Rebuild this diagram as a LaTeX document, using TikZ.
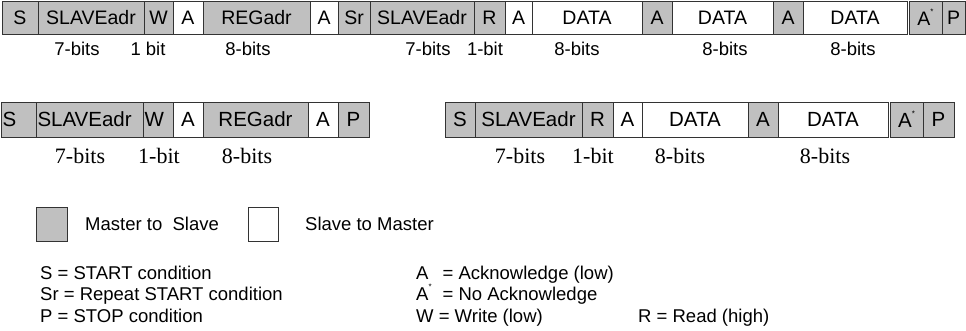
\documentclass[tikz,border=0pt]{standalone}
\usepackage{fontspec}
\setmainfont{Liberation Sans}
\newfontfamily\bitsserif{Liberation Serif}
\usetikzlibrary{positioning}
\definecolor{msgray}{RGB}{192,192,192}
\newcommand{\nack}{A\raisebox{0.55em}{\fontsize{8}{8}\selectfont *}}
\tikzset{
    fld/.style={draw=black!80, line width=0.9pt, minimum height=33pt, inner sep=0pt, outer sep=0pt,
        font=\fontsize{19.5}{22}\selectfont},
    ms/.style={fld, fill=msgray, minimum width=#1},
    sm/.style={fld, fill=white, minimum width=#1},
    tall/.style={minimum height=35pt, font=\fontsize{20.5}{23}\selectfont},
    bits/.style={font=\fontsize{18.5}{20}\selectfont},
    tbits/.style={font=\bitsserif\fontsize{22}{24}\selectfont},
    legend/.style={anchor=base west, inner sep=0pt, font=\fontsize{18.5}{20}\selectfont}
}

\begin{document}
\begin{tikzpicture}[x=1pt, y=-1pt]
\useasboundingbox (0,0) rectangle (966,331);

    % write register address, repeated start, read three bytes
    \node[ms=36, anchor=west] (rS) at (2,17.5) {S};
    \node[ms=106, right=0pt of rS] (rSlave) {SLAVEadr};
    \node[ms=29, right=0pt of rSlave] (rW) {W};
    \node[sm=30, right=0pt of rW] (rA1) {A};
    \node[ms=107, right=0pt of rA1] (rReg) {REGadr};
    \node[sm=28, right=0pt of rReg] (rA2) {A};
    \node[ms=32, right=0pt of rA2] (rSr) {Sr};
    \node[ms=104, right=0pt of rSr] (rSlaveB) {SLAVEadr};
    \node[ms=31, right=0pt of rSlaveB] (rR) {R};
    \node[sm=27, right=0pt of rR] (rA3) {A};
    \node[sm=110, right=0pt of rA3] (rData1) {DATA};
    \node[ms=30, right=0pt of rData1] (rA4) {A};
    \node[sm=101, right=0pt of rA4] (rData2) {DATA};
    \node[ms=30, right=0pt of rData2] (rA5) {A};
    \node[sm=104, right=0pt of rA5] (rData3) {DATA};
    \node[ms=33, right=2pt of rData3] (rNack) {\nack};
    \node[ms=23, right=0pt of rNack] (rP) {P};

    \node[bits] (rb1) at (77,49) {7-bits};
    \node[bits] (rb2) at (148,49) {1 bit};
    \node[bits] (rb3) at (248,49) {8-bits};
    \node[bits] (rb4) at (428,49) {7-bits};
    \node[bits] (rb5) at (485,49) {1-bit};
    \node[bits] (rb6) at (577,49) {8-bits};
    \node[bits] (rb7) at (725,49) {8-bits};
    \node[bits] (rb8) at (853,49) {8-bits};

    % write register address only
    \node[ms=35, tall, anchor=west, align=left, text width=32pt] (wS) at (1,119.5) {S};
    \node[ms=107, tall, align=left, text width=104pt, right=0pt of wS] (wSlave) {SLAVEadr};
    \node[ms=30, tall, align=left, text width=27pt, right=0pt of wSlave] (wW) {W};
    \node[sm=30, tall, right=0pt of wW] (wA1) {A};
    \node[ms=105, tall, right=0pt of wA1] (wReg) {REGadr};
    \node[sm=30, tall, right=0pt of wReg] (wA2) {A};
    \node[ms=31, tall, right=0pt of wA2] (wP) {P};

    \node[tbits] (wb1) at (80,156) {7-bits};
    \node[tbits] (wb2) at (159,156) {1-bit};
    \node[tbits] (wb3) at (247,156) {8-bits};

    % read two bytes
    \node[ms=30, tall, anchor=west] (dS) at (445,119.5) {S};
    \node[ms=107, tall, right=0pt of dS] (dSlave) {SLAVEadr};
    \node[ms=31, tall, right=0pt of dSlave] (dR) {R};
    \node[sm=29, tall, right=0pt of dR] (dA1) {A};
    \node[sm=106, tall, right=0pt of dA1] (dData1) {DATA};
    \node[ms=30, tall, right=0pt of dData1] (dA2) {A};
    \node[sm=110, tall, right=0pt of dA2] (dData2) {DATA};
    \node[ms=33, tall, right=2pt of dData2] (dNack) {\nack};
    \node[ms=31, tall, right=0pt of dNack] (dP) {P};

    \node[tbits] (db1) at (520,156) {7-bits};
    \node[tbits] (db2) at (593,156) {1-bit};
    \node[tbits] (db3) at (680,156) {8-bits};
    \node[tbits] (db4) at (825,156) {8-bits};

    % legend
    \node[ms=31, minimum height=34pt, anchor=west] (keyMS) at (36,224) {};
    \node[legend, anchor=west] (keyMSt) at (85,224) {Master to~~Slave};
    \node[sm=30, minimum height=34pt, anchor=west] (keySM) at (248,224) {};
    \node[legend, anchor=west] (keySMt) at (305,224) {Slave to Master};

    \node[legend] (defS) at (40,279) {S = START condition};
    \node[legend] (defSr) at (40,300) {Sr = Repeat START condition};
    \node[legend] (defP) at (40,322) {P = STOP condition};
    \node[legend] (defA) at (416,279) {\makebox[1.15em][l]{A} = Acknowledge (low)};
    \node[legend] (defN) at (416,300) {\makebox[1.15em][l]{\nack} = No Acknowledge};
    \node[legend] (defW) at (416,322) {W = Write (low)};
    \node[legend] (defR) at (638,322) {R = Read (high)};

\end{tikzpicture}
\end{document}
